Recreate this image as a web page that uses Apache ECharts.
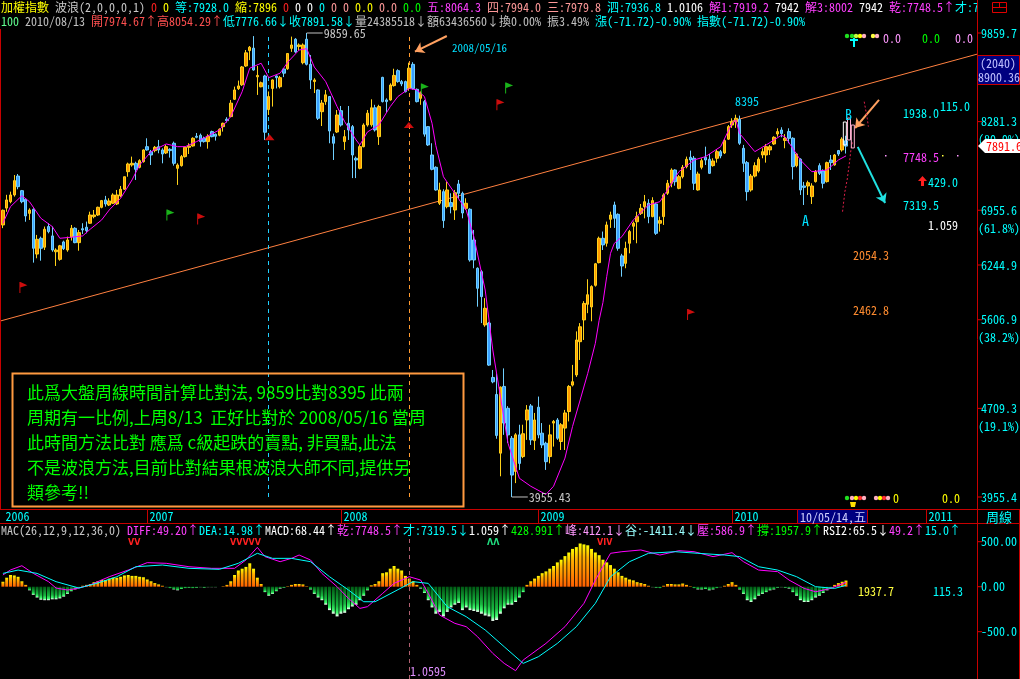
<!DOCTYPE html>
<html><head><meta charset="utf-8">
<script src="https://cdn.jsdelivr.net/npm/echarts/dist/echarts.min.js"></script>
<style>html,body{margin:0;padding:0;background:#000}#c{width:1020px;height:679px}</style>
</head><body><div id="c"></div><script>
// weekly candles [open, high, low, close]
const weekly = [
[6757,6965,6715,6955],[6985,7170,6935,7098],[7074,7215,7052,7168],[7168,7455,7145,7373],[7440,7470,7249,7286],
[7229,7239,7052,7074],[7108,7122,6800,6878],[6913,6982,6824,6959],[6969,6982,6274,6454],[6381,6626,6328,6569],
[6582,6604,6298,6454],[6467,6736,6432,6700],[6736,6780,6647,6669],[6613,6736,6410,6432],[6410,6454,6233,6432],
[6315,6497,6298,6485],[6535,6552,6432,6449],[6432,6604,6410,6560],[6600,6757,6552,6713],[6713,6727,6518,6526],
[6526,6691,6423,6656],[6708,6780,6638,6691],[6727,6802,6647,6682],[6780,6936,6771,6891],[6869,6959,6846,6891],
[6891,7005,6878,6996],[6996,7098,6982,7089],[7098,7155,7005,7042],[7028,7122,7014,7084],[7052,7192,7042,7168],
[7042,7239,7028,7168],[7155,7296,7136,7249],[7249,7430,7239,7430],[7504,7639,7430,7619],[7604,7730,7579,7629],
[7629,7654,7383,7539],[7569,7690,7554,7669],[7654,7842,7639,7832],[7883,8014,7822,7832],[7806,7832,7604,7755],
[7822,7894,7796,7873],[7883,7988,7781,7832],[7832,7858,7629,7770],[7786,7910,7770,7883],[7842,7858,7715,7822],
[7936,7962,7594,7629],[7554,7629,7311,7604],[7594,7755,7579,7730],[7730,7883,7715,7873],[7873,7936,7770,7894],
[7894,8030,7883,8014],[8046,8098,8014,8030],[8062,8089,7883,7962],[8014,8040,7946,7962],[7962,8078,7852,8046],
[8120,8136,8030,8040],[8078,8089,7978,8046],[8062,8173,8046,8157],[8200,8265,8120,8254],[8320,8353,8265,8297],
[8364,8642,8353,8588],[8653,8872,8642,8814],[8837,8978,8814,8884],[8905,9240,8884,9222],[9240,9535,9222,9482],
[9524,9610,9347,9587],[9570,9800,9155,9167],[9045,9240,8728,9070],[8870,8960,8860,8940],[9060,9080,7988,8110],
[8480,8788,8390,8700],[8840,9000,8530,8989],[9060,9070,8840,9030],[8870,9060,8840,9030],[9185,9200,9040,9110],
[9190,9470,9170,9470],[9566,9790,9500,9630],[9740,9760,9480,9500],[9600,9660,9535,9630],[9300,9660,9270,9630],
[9740,9860,9250,9270],[9270,9440,8830,8989],[8960,9020,8760,8989],[8814,8825,8308,8336],[8445,8642,8210,8590],
[8614,8814,8560,8730],[8700,8710,7936,8130],[8040,8089,7679,7936],[8114,8473,8098,8390],[8462,8540,8200,8226],
[7962,8146,7832,8040],[8254,8540,7988,8146],[8200,8226,7410,7755],[7705,7730,7410,7679],[7554,7910,7539,7883],
[7883,8254,7873,8226],[8226,8473,8200,8420],[8230,8653,8200,8510],[8510,8560,8120,8146],[8040,8560,7910,8530],
[9035,9045,8600,8614],[8642,8670,8430,8614],[8642,8930,8630,8900],[8890,9190,8872,9070],[9155,9180,8940,8960],
[8960,8989,8880,8920],[8960,8978,8770,8785],[8840,9300,8800,9200],[9270,9309,8820,8840],[8825,8840,8600,8614],
[8670,8788,8560,8760],[8614,8642,8040,8080],[8200,8210,7894,7910],[7755,7936,7524,7539],[7569,7584,7229,7239],
[7052,7343,7028,7239],[7215,7249,6718,6815],[7005,7357,6982,7239],[7061,7192,6913,7005],[6959,7239,6824,7200],
[7325,7383,7122,7192],[7192,7215,6846,6918],[6982,7122,6959,7052],[6969,6982,6286,6307],[6560,6691,6205,6307],
[6205,6216,5753,5965],[6164,6184,5570,5868],[5550,5850,5530,5735],[5570,5583,5120,5128],[5005,5079,4948,4962],
[4840,5045,4436,4465],[4312,4917,4120,4910],[4917,5095,4470,4575],[4710,4730,4400,4470],[4440,4460,3955,4130],
[4160,4485,4065,4470],[4470,4560,4172,4226],[4283,4560,4270,4480],[4603,4740,4426,4695],[4732,4750,4382,4426],
[4420,4667,4339,4603],[4720,4820,4440,4470],[4485,4575,4355,4382],[4397,4410,4172,4240],[4283,4560,4226,4470],
[4575,4603,4368,4590],[4603,4620,4426,4440],[4412,4575,4339,4560],[4530,4695,4339,4667],[4680,4930,4590,4917],
[4930,5130,4917,4963],[5030,5480,5010,5388],[5370,5570,5180,5530],[5605,5816,5388,5790],[5780,6072,5680,5890],
[5750,6000,5590,5985],[6000,6270,5985,6260],[6274,6604,6265,6582],[6582,6670,6432,6497],[6518,6802,6475,6757],
[6833,6936,6718,6891],[7028,7074,6718,6846],[6900,6913,6423,6454],[6358,6384,6103,6233],[6265,6538,6205,6454],
[6518,6691,6390,6669],[6740,6802,6560,6780],[6800,6936,6518,6869],[6913,7042,6891,6982],[7005,7168,6846,7074],
[7052,7108,6780,6869],[6869,7136,6860,7089],[7042,7061,6626,6647],[6780,6869,6669,6815],[6869,7192,6757,7168],
[7192,7383,7168,7335],[7335,7554,7278,7529],[7529,7539,7300,7357],[7262,7455,7249,7430],[7430,7604,7405,7569],
[7579,7730,7554,7690],[7720,7822,7529,7679],[7705,7740,7239,7335],[7239,7504,7229,7470],[7569,7705,7539,7669],
[7720,7883,7604,7679],[7690,7770,7470,7480],[7594,7705,7579,7664],[7705,7842,7639,7806],[7806,7832,7705,7740],
[7786,8000,7770,7978],[8000,8226,7988,8200],[8226,8336,8180,8280],[8280,8395,8180,8336],[8320,8380,7910,7936],
[7858,7910,7500,7629],[7639,7664,7089,7215],[7239,7470,7215,7440],[7440,7644,7420,7594],[7514,7720,7490,7690],
[7755,7858,7705,7806],[7755,7925,7639,7883],[7832,7910,7755,7883],[7925,8046,7910,8030],[8082,8173,8040,8120],
[8146,8190,8030,8089],[7980,8080,7858,8014],[8120,8173,7936,8014],[8014,8030,7390,7579],[7594,7786,7569,7770],
[7690,7705,7168,7239],[7296,7355,7028,7276],[7296,7373,7168,7343],[7145,7335,7042,7296],[7359,7529,7345,7504],
[7594,7629,7455,7480],[7514,7539,7262,7335],[7359,7654,7345,7639],[7679,7755,7529,7639],[7604,7770,7594,7755],
[7822,7832,7740,7770],[7832,8030,7806,8000],[7974.67,8054.29,7776.66,7891.58]
];
// magenta average line [week index, value]
const maPts = [[0,6781],[2,7005],[5,7158],[7,7074],[10,6846],[13,6736],[15,6582],[18,6596],[21,6613],[23,6701],[26,6824],[28,6959],[31,7122],[34,7383],[36,7604],[39,7806],[43,7925],[46,7883],[48,7883],[51,7962],[54,8052],[57,8146],[60,8364],[63,8784],[65,9200],[68,9290],[70,9030],[73,9110],[75,9310],[78,9535],[80,9560],[82,9220],[85,8960],[88,8530],[90,8280],[93,7988],[94,7910],[96,8115],[99,8226],[102,8530],[104,8700],[107,8840],[109,8814],[111,8700],[113,8254],[114,7900],[116,7430],[119,7192],[122,6959],[124,6604],[127,5945],[129,5283],[131,4820],[133,4397],[136,4104],[139,4040],[143,3975],[145,4040],[148,4270],[150,4545],[152,4788],[154,5045],[156,5353],[157,5600],[158,5800],[159,6104],[160,6390],[161,6517],[163,6604],[166,6824],[170,7028],[173,7074],[175,7239],[178,7504],[182,7679],[185,7730],[189,7883],[192,8254],[193,8308],[194,8089],[198,7806],[201,7910],[205,8062],[206,8035],[210,7679],[213,7504],[217,7529],[220,7679],[222,7741]];
// MACD panel
const diffPts = [[0,130],[2,186],[5,233],[8,148],[12,56],[14,-15],[17,-37],[20,-15],[23,20],[28,111],[33,185],[38,267],[43,260],[49,222],[55,204],[61,204],[64,297],[67,437],[69,334],[73,278],[76,315],[78,352],[81,297],[84,148],[88,0],[91,-130],[94,-241],[96,-222],[100,-74],[103,37],[107,111],[110,74],[112,-74],[115,-315],[119,-407],[122,-444],[125,-556],[129,-741],[132,-852],[135,-933],[137,-815],[143,-630],[148,-444],[153,-185],[156,74],[159,297],[160,371],[163,389],[168,408],[173,352],[178,400],[182,389],[187,334],[192,378],[195,278],[199,185],[204,167],[207,74],[211,-19],[214,-56],[218,-19],[222,49]];
const deaPts = [[0,148],[4,185],[9,148],[14,56],[20,-15],[25,41],[30,111],[35,222],[42,241],[49,204],[57,193],[62,260],[67,371],[71,315],[76,315],[81,278],[86,111],[91,-37],[95,-167],[98,-167],[103,-56],[108,56],[112,37],[117,-222],[122,-333],[127,-481],[132,-667],[137,-852],[141,-778],[146,-630],[151,-444],[156,-185],[160,111],[165,278],[170,371],[177,389],[183,371],[190,352],[194,334],[199,222],[204,185],[209,111],[214,0],[219,-19],[222,15]];
const macdHist = [55,100,130,125,110,60,20,-40,-90,-120,-145,-150,-150,-140,-140,-130,-110,-80,-50,-30,-10,10,20,30,50,60,75,75,90,100,100,110,125,130,120,120,110,105,80,60,40,25,10,-5,-15,-30,-40,-25,-15,-10,-15,-10,-5,-10,-5,-5,-5,0,5,20,60,130,180,200,220,260,200,100,30,-60,-100,-80,-50,-20,-10,5,20,30,30,25,5,-30,-80,-120,-150,-200,-260,-300,-330,-300,-290,-250,-220,-200,-150,-100,-40,15,30,60,150,160,200,230,200,180,120,90,60,20,-20,-70,-150,-230,-300,-280,-330,-280,-230,-200,-180,-260,-230,-260,-270,-280,-300,-320,-330,-380,-370,-300,-240,-200,-200,-170,-120,-60,20,60,90,120,150,170,200,230,270,300,340,380,420,440,480,470,460,420,380,350,300,270,240,200,160,120,100,80,70,50,40,30,10,-5,-10,-15,10,30,30,25,25,35,20,5,-15,-30,-30,-25,-40,-30,-15,-5,10,30,50,20,-30,-80,-150,-170,-140,-100,-80,-60,-40,-30,-10,-5,-10,-20,-60,-100,-150,-170,-170,-150,-120,-100,-70,-40,-10,20,40,55,68];
// axis labels
const priceTicks = [9859.7, 8281.3, 6955.6, 6244.9, 5606.9, 4709.3, 3955.4];
const priceTickLabels = ['9859.7','8281.3','6955.6','6244.9','5606.9','4709.3','3955.4'];
const pctLabels = {1:'(80.9%)', 2:'(61.8%)', 4:'(38.2%)', 5:'(19.1%)'};
const macdTicks = [500, 0, -500];
const macdTickLabels = ['500.00','0.00','-500.0'];
const yearTicks = [[0,'2006'],[38,'2007'],[89,'2008'],[141,'2009'],[192,'2010'],[243,'2011']];
const SLOTS = 257;
// annotations (week index, price)
const trendPts = [[-0.5,5595],[256.5,9457]];
const sarLow = [[221.1,6936],[221.7,7211],[222.3,7383],[222.9,7633],[223.3,7832],[223.7,7957]];
const sarHigh = [[226.8,8613],[227.2,8473],[227.6,8336],[227.9,8200]];
const ghostCandles = [[221.7,8275,7910,'#ffffff'],[222.8,8340,7988,'#ffb0d0'],[223.8,8226,7863,'#ffb0d0']];
const flagsGreen = [[44.1,6890],[111.1,8830],[133.3,8850]];
const flagsRed = [[5.4,5975],[52.2,6837],[131.0,8560],[181.2,5666]];
const triangles = [[70.2,8030],[106.9,8227]];
const extremes = [[80,9859.65,'9859.65'],[134,3955.43,'3955.43']];
const arrows = [
  [[116.9,9802],[108.5,9503],'#ffa060'],
  [[230.7,8642],[224.4,8178],'#ffa060'],
  [[225.1,7879],[232.3,7056],'#20e0e0']
];

const MONO = "'Noto Sans Mono CJK TC','Noto Sans Mono CJK SC','DejaVu Sans Mono',monospace";
const CJK = "'Noto Sans CJK TC','Noto Sans CJK SC',sans-serif";
const cats = Array.from({length:SLOTS}, (_, i) => String(i));

function richLine(segs, x, y, size) {
  let text = '', rich = {};
  segs.forEach((s, k) => { text += '{s' + k + '|' + s[0] + '}'; rich['s' + k] = {fill: s[1], font: size + 'px ' + MONO}; });
  return {type:'text', x:x, y:y, z:50, style:{text:text, rich:rich, font:size + 'px ' + MONO, verticalAlign:'middle'}};
}
function T(x, y, text, color, font, extra) {
  return {type:'text', x:x, y:y, z:50, style:Object.assign({text:text, fill:color, font:font || ('12px ' + MONO), verticalAlign:'middle'}, extra || {})};
}
function L(x1, y1, x2, y2, color, w, dash) {
  return {type:'line', z:40, shape:{x1, y1, x2, y2}, style:{stroke:color, lineWidth:w || 1, lineDash:dash || null}};
}
const header1 = [['加權指數 ','#ffff00'],['波浪(2,0,0,0,1) ','#c8c8c8'],['0 ','#ff2020'],['0 ','#ffff00'],['等:7928.0 ','#00ffff'],['縮:7896 ','#ffff00'],['0 ','#ff2020'],['0 0 ','#ffffff'],['0 ','#00ffff'],['0 0 ','#ff9999'],['0.0 ','#ffff00'],['0.0 ','#ff9999'],['0.0 ','#00ff00'],['五:8064.3 ','#ff40ff'],['四:7994.0 三:7979.8 ','#ff9999'],['泗:7936.8 ','#00ffff'],['1.0106 ','#ffffff'],['解1:7919.2 ','#ff40ff'],['7942 ','#ffffff'],['解3:8002 ','#ff40ff'],['7942 ','#ffffff'],['乾:7748.5↑','#ff40ff'],['才:7319.5','#00ffff']];
const header2 = [['100 ','#60ff90'],['2010/08/13 ','#c0c0c0'],['開7974.67↑高8054.29↑','#ff5050'],['低7776.66↓收7891.58↓','#00ffff'],['量24385518↓額63436560↓換0.00% 振3.49% ','#c0c0c0'],['漲(-71.72)-0.90% 指數(-71.72)-0.90%','#00ffff']];
const macdHeader = [['MAC(26,12,9,12,36,0) ','#c8c8c8'],['DIFF:49.20↑','#ff40ff'],['DEA:14.98↑','#00ffff'],['MACD:68.44↑','#ffffff'],['乾:7748.5↑','#ff40ff'],['才:7319.5↓','#00ffff'],['1.059↑','#ffffff'],['428.991↑','#00ff00'],['峰:412.1↓','#ff99ff'],['谷:-1411.4↓','#99ffff'],['壓:586.9↑','#ff40ff'],['撐:1957.9↑','#00ff00'],['RSI2:65.5↓','#ffffff'],['49.2↑','#ff40ff'],['15.0↑','#00ffff']];
const noteLines = ['此爲大盤周線時間計算比對法, 9859比對8395 此兩','周期有一比例,上周8/13  正好比對於 2008/05/16 當周','此時間方法比對 應爲 c級起跌的賣點, 非買點,此法','不是波浪方法,目前比對結果根波浪大師不同,提供另','類參考!!'];

const RED = '#c80000';
const graphics = [
  richLine(header1, 1, 7, 12),
  richLine(header2, 1, 21, 12),
  richLine(macdHeader, 1, 530, 12),
  {type:'rect', z:60, shape:{x:978, y:0, width:42, height:28}, style:{fill:'#000'}},
  {type:'rect', z:61, shape:{x:992.5, y:2.5, width:14, height:10}, style:{fill:'none', stroke:'#e00000'}},
  Object.assign(L(992.5, 7.5, 1006.5, 7.5, '#e00000'), {z:61}), Object.assign(L(999.5, 2.5, 999.5, 7.5, '#e00000'), {z:61}),
  L(0.5, 29, 0.5, 509, RED), Object.assign(L(977.5, 0, 977.5, 679, RED), {z:62}),
  L(0, 509.5, 1020, 509.5, RED), L(0, 523.5, 1020, 523.5, RED),
  L(1019.5, 509, 1019.5, 679, RED),
  {type:'rect', z:46, shape:{x:797.5, y:509.5, width:70, height:14}, style:{fill:'#000080', stroke:RED}},
  T(800, 517, '10/05/14,五', '#d0d0ff'),
  T(986, 517, '周線', '#00ffff', '13px ' + CJK),
  {type:'rect', z:46, shape:{x:977.5, y:55.5, width:42, height:29}, style:{fill:'#000080', stroke:RED}},
  T(980, 63, '(2040)', '#c0c0ff'), T(978, 77, '8900.36', '#c0c0ff'),
  // note box
  {type:'rect', z:44, shape:{x:12.5, y:373.5, width:451, height:133}, style:{fill:'none', stroke:'#ff9a40', lineWidth:2}},
  // in-chart texts
  T(452, 48, '2008/05/16', '#00e0ff', '11px ' + MONO),
  T(735, 101, '8395', '#00e0ff', '12px ' + MONO),
  T(802, 221, 'A', '#00e0ff', '14px ' + MONO),
  T(845, 115, 'B', '#00e0ff', '14px ' + MONO),
  T(883, 38, '0.0', '#ff99ff'), T(922, 38, '0.0', '#00ff00'), T(955, 38, '0.0', '#ff99ff'),
  T(903, 113, '1938.0', '#00ffff'), T(940, 106, '115.0', '#00ffff'),
  T(903, 157, '7748.5', '#ff40ff'),
  T(928, 182, '429.0', '#00ffff'),
  {type:'polygon', z:50, shape:{points:[[918,181],[922.5,176],[927,181],[924,181],[924,186],[921,186],[921,181]]}, style:{fill:'#ff2020'}},
  T(903, 205, '7319.5', '#00ffff'), T(928, 225, '1.059', '#ffffff'),
  T(853, 255, '2054.3', '#ff8c30'), T(853, 310, '2462.8', '#ff8c30'),
  T(893, 498, '0', '#ffff00'), T(942, 498, '0.0', '#ffff00'),
  T(858, 591, '1937.7', '#ffff40'), T(933, 591, '115.3', '#00ffff'),
  T(410, 671, '1.0595', '#e090ff'),
  T(128, 543, 'VV', '#ff2020', 'bold 8px DejaVu Sans'),
  T(230, 543, 'VVVVV', '#ff2020', 'bold 8px DejaVu Sans'),
  T(487, 543, 'ΛΛ', '#20e080', 'bold 8px DejaVu Sans'),
  T(597, 543, 'VIV', '#ff2020', 'bold 8px DejaVu Sans'),
  L(854, 38, 854, 47, '#00ffff', 2), L(850, 40, 858, 40, '#00ffff', 2)
];
[[847,'#20e020'],[852,'#20e020'],[856,'#c0ff40'],[860,'#ffff00'],[864,'#ffb0c0'],[873,'#ffff40'],[877,'#ffb0c0']].forEach(d => graphics.push({type:'circle', z:50, shape:{cx:d[0], cy:36, r:2.2}, style:{fill:d[1]}}));
[[847,'#20e020'],[852,'#ffb0c0'],[856,'#ffff00'],[860,'#ff3030'],[864,'#ffb0c0'],[876,'#ffb0c0'],[880,'#ffff00'],[884,'#ff3030'],[888,'#ffb0c0']].forEach(d => graphics.push({type:'circle', z:50, shape:{cx:d[0], cy:498, r:2.2}, style:{fill:d[1]}}));
graphics.push({type:'polygon', z:50, shape:{points:[[850,502],[856,502],[855,507],[851,507]]}, style:{fill:'#ffe000'}});
[[885,155,'#ff99ff'],[942,155,'#ffff40'],[957,155,'#ff99ff']].forEach(d => graphics.push({type:'rect', z:50, shape:{x:d[0], y:d[1], width:1.5, height:1.5}, style:{fill:d[2]}}));
noteLines.forEach((s, k) => graphics.push(T(27, 393 + k * 25, s, '#00ff00', '17px ' + CJK)));

const chart = echarts.init(document.getElementById('c'), null, {renderer:'canvas'});
const posGrad = new echarts.graphic.LinearGradient(0,0,0,1,[{offset:0,color:'#ffff00'},{offset:0.3,color:'#ffb000'},{offset:1,color:'#ff6000'}]);
const negGrad = new echarts.graphic.LinearGradient(0,0,0,1,[{offset:0,color:'#005a14'},{offset:0.65,color:'#18b840'},{offset:0.88,color:'#40ff70'},{offset:1,color:'#ffffff'}]);
const flagPath = 'path://M0,0 L1,0 L8,3.5 L1,6 L1,12 L0,12 Z';

function tickRenderer(labels, extra) {
  return function (params, api) {
    const k = api.value(2);
    const y = api.coord([0, api.value(1)])[1];
    const x = params.coordSys.x + params.coordSys.width;
    const kids = [
      {type:'line', shape:{x1:x, y1:y, x2:x + 5, y2:y}, style:{stroke:'#e00000', lineWidth:1}},
      {type:'text', x:x + 4, y:y, style:{text:labels[k], fill:'#00ffff', font:'12px ' + MONO, verticalAlign:'middle'}}
    ];
    if (extra && extra[k]) kids.push({type:'text', x:x + 1, y:y + 18, style:{text:extra[k], fill:'#00ffff', font:'12px ' + MONO, verticalAlign:'middle'}});
    return {type:'group', children:kids};
  };
}

chart.setOption({
  backgroundColor:'#000',
  animation:false,
  graphic:graphics,
  grid:[
    {left:1, top:33, width:976, height:464},
    {left:1, top:537, width:976, height:142}
  ],
  xAxis:[
    {type:'category', gridIndex:0, data:cats, boundaryGap:true, show:false},
    {type:'category', gridIndex:1, data:cats, show:false},
    {type:'value', gridIndex:0, min:-0.5, max:SLOTS - 0.5, show:false}
  ],
  yAxis:[
    {type:'log', logBase:10, gridIndex:0, min:3955.4, max:9859.7, show:false},
    {type:'value', gridIndex:1, min:-1025.5, max:552.2, show:false}
  ],
  series:[
    {type:'line', xAxisIndex:2, yAxisIndex:0, data:trendPts, symbol:'none', lineStyle:{color:'#ff8040', width:1}, z:3, silent:true},
    {type:'candlestick', xAxisIndex:0, yAxisIndex:0, barWidth:3,
     data:weekly.map(r => [r[0], r[3], r[2], r[1]]),
     itemStyle:{color:'#ff9a00', color0:'#3aa0ff', borderColor:'#ffd21a', borderColor0:'#70d0ff', borderWidth:1},
     markLine:{silent:true, symbol:'none', label:{show:false},
       data:[{xAxis:'70', lineStyle:{color:'#20d0ff', type:[4,4], width:1}}, {xAxis:'107', lineStyle:{color:'#ff9a30', type:[4,4], width:1}}]},
     z:5},
    {type:'line', xAxisIndex:0, yAxisIndex:0, data:maPts, symbol:'none', lineStyle:{color:'#ff00ff', width:1}, z:6, silent:true},
    {type:'line', xAxisIndex:2, yAxisIndex:0, data:sarLow, symbol:'none', lineStyle:{color:'#e0204a', width:1, type:[2,2]}, z:6, silent:true},
    {type:'line', xAxisIndex:2, yAxisIndex:0, data:sarHigh, symbol:'none', lineStyle:{color:'#e0204a', width:1, type:[2,2]}, z:6, silent:true},
    {type:'custom', xAxisIndex:2, yAxisIndex:0, silent:true, z:7, data:ghostCandles,
     renderItem:(params, api) => {
       const a = api.coord([api.value(0), api.value(1)]);
       const b = api.coord([api.value(0), api.value(2)]);
       return {type:'rect', shape:{x:a[0] - 1.5, y:a[1], width:3, height:b[1] - a[1]}, style:{fill:'none', stroke:ghostCandles[params.dataIndex][3], lineWidth:1}};
     }},
    {type:'scatter', xAxisIndex:2, yAxisIndex:0, data:flagsGreen, symbol:flagPath, symbolSize:[8,11], itemStyle:{color:'#20e020'}, z:8, silent:true},
    {type:'scatter', xAxisIndex:2, yAxisIndex:0, data:flagsRed, symbol:flagPath, symbolSize:[8,11], itemStyle:{color:'#ff1010'}, z:8, silent:true},
    {type:'scatter', xAxisIndex:2, yAxisIndex:0, data:triangles, symbol:'triangle', symbolSize:[10,6], itemStyle:{color:'#ff1010'}, z:8, silent:true},
    {type:'line', xAxisIndex:2, yAxisIndex:0, data:[], silent:true,
     markLine:{silent:true, symbol:['none','arrow'], symbolSize:9, label:{show:false},
       data:arrows.map(a => [{coord:a[0], lineStyle:{color:a[2], width:2, type:'solid'}}, {coord:a[1]}])}},
    {type:'custom', xAxisIndex:0, yAxisIndex:0, clip:false, silent:true, z:9, data:extremes,
     renderItem:(params, api) => {
       const p = api.coord([api.value(0), api.value(1)]);
       return {type:'group', children:[
         {type:'line', shape:{x1:p[0], y1:p[1], x2:p[0] + 16, y2:p[1]}, style:{stroke:'#c0c0c0', lineWidth:1}},
         {type:'text', x:p[0] + 17, y:p[1], style:{text:extremes[params.dataIndex][2], fill:'#c8c8c8', font:'12px ' + MONO, verticalAlign:'middle'}}
       ]};
     }},
    // date row: year separators and labels
    {type:'custom', xAxisIndex:0, yAxisIndex:0, clip:false, silent:true, z:30,
     data:yearTicks.map((t, k) => [t[0], 5000, k]),
     renderItem:(params, api) => {
       const x = Math.round(api.coord([api.value(0), 5000])[0]) + 0.5;
       const y0 = params.coordSys.y + params.coordSys.height + 12;
       const kids = [{type:'text', x:x + 2, y:y0 + 7.5, style:{text:yearTicks[api.value(2)][1], fill:'#00ffff', font:'12px ' + MONO, verticalAlign:'middle'}}];
       if (api.value(0) > 0) kids.push({type:'line', shape:{x1:x, y1:y0, x2:x, y2:y0 + 14}, style:{stroke:RED, lineWidth:1}});
       return {type:'group', children:kids};
     }},
    {type:'custom', xAxisIndex:0, yAxisIndex:0, clip:false, silent:true, z:20,
     data:priceTicks.map((v, k) => [0, v, k]), renderItem:tickRenderer(priceTickLabels, pctLabels)},
    {type:'custom', xAxisIndex:0, yAxisIndex:0, clip:false, silent:true, z:21,
     data:[[weekly.length - 1, weekly[weekly.length - 1][3]]],
     renderItem:(params, api) => {
       const y = api.coord([api.value(0), api.value(1)])[1];
       const x = params.coordSys.x + params.coordSys.width;
       return {type:'group', children:[
         {type:'polygon', shape:{points:[[x + 1, y], [x + 8, y - 7], [x + 43, y - 7], [x + 43, y + 7], [x + 8, y + 7]]}, style:{fill:'#ffffff'}},
         {type:'text', x:x + 9, y:y, style:{text:api.value(1).toFixed(1), fill:'#ff0000', font:'12px ' + MONO, verticalAlign:'middle'}}
       ]};
     }},
    {type:'bar', xAxisIndex:1, yAxisIndex:1, data:macdHist, barWidth:3, silent:true,
     itemStyle:{color:(p) => p.value >= 0 ? posGrad : negGrad},
     markLine:{silent:true, symbol:'none', label:{show:false}, data:[{xAxis:'107', lineStyle:{color:'#b06070', type:[4,4], width:1}}]}},
    {type:'line', xAxisIndex:1, yAxisIndex:1, data:diffPts, symbol:'none', lineStyle:{color:'#ff00ff', width:1}, z:6, silent:true},
    {type:'line', xAxisIndex:1, yAxisIndex:1, data:deaPts, symbol:'none', lineStyle:{color:'#00ffff', width:1}, z:6, silent:true},
    {type:'custom', xAxisIndex:1, yAxisIndex:1, clip:false, silent:true, z:20,
     data:macdTicks.map((v, k) => [0, v, k]), renderItem:tickRenderer(macdTickLabels, null)}
  ]
});
</script></body></html>
